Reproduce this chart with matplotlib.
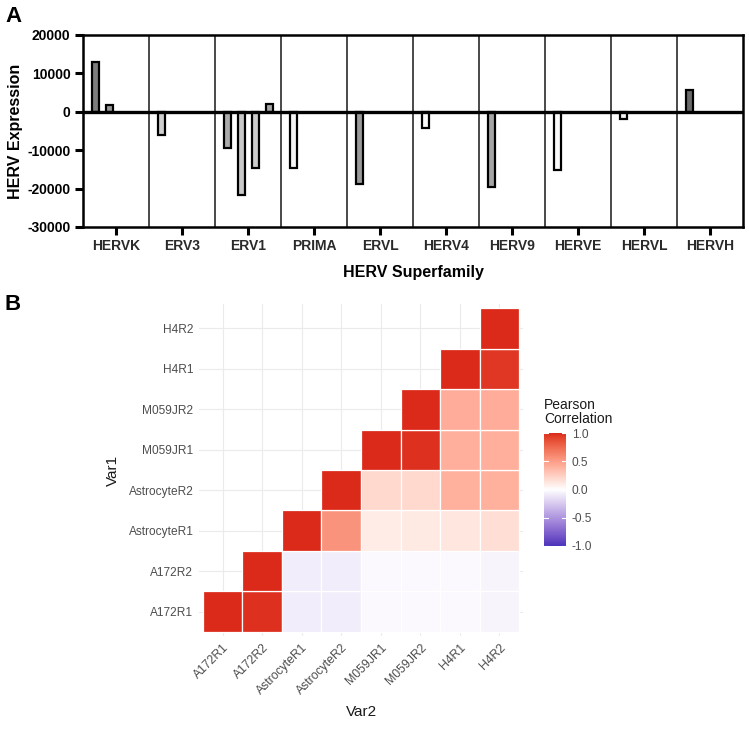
import numpy as np
import matplotlib
matplotlib.use("Agg")
import matplotlib.pyplot as plt
from matplotlib.colors import ListedColormap, Normalize
from matplotlib.patches import Rectangle

plt.rcParams['font.family'] = ['Liberation Sans', 'DejaVu Sans']

# ---------------- Panel A data ----------------
superfamilies = ["HERVK", "ERV3", "ERV1", "PRIMA", "ERVL", "HERV4", "HERV9", "HERVE", "HERVL", "HERVH"]
nan = np.nan
bar_slot1 = [13000, -6000, -9300, -14700, -18800, -4200, -19500, -15100, -2000, 5700]
bar_slot2 = [1800, nan, -21700, nan, nan, nan, nan, nan, nan, nan]
bar_slot3 = [nan, nan, -14600, nan, nan, nan, nan, nan, nan, nan]
bar_slot4 = [nan, nan, 2000, nan, nan, nan, nan, nan, nan, nan]
y_ticks = [-30000, -20000, -10000, 0, 10000, 20000]

# ---------------- Panel B data ----------------
samples = ["A172R1", "A172R2", "AstrocyteR1", "AstrocyteR2", "M059JR1", "M059JR2", "H4R1", "H4R2"]
# rows = Var1 (y), columns = Var2 (x); only upper triangle (x >= y) is drawn
pearson_r = [
    [1.00, 0.98, -0.08, -0.08, -0.03, -0.03, -0.03, -0.05],
    [0.98, 1.00, -0.08, -0.08, -0.03, -0.03, -0.03, -0.05],
    [-0.08, -0.08, 1.00, 0.55, 0.10, 0.11, 0.13, 0.17],
    [-0.08, -0.08, 0.55, 1.00, 0.20, 0.20, 0.40, 0.40],
    [-0.03, -0.03, 0.10, 0.20, 1.00, 0.98, 0.41, 0.41],
    [-0.03, -0.03, 0.11, 0.20, 0.98, 1.00, 0.42, 0.42],
    [-0.03, -0.03, 0.13, 0.40, 0.41, 0.42, 1.00, 0.96],
    [-0.05, -0.05, 0.17, 0.40, 0.41, 0.42, 0.96, 1.00],
]
legend_ticks = [-1.0, -0.5, 0.0, 0.5, 1.0]

# fill colours (style)
slot_colors = {
    0: ["#7d7d7d", "#cfcfcf", "#ababab", "#f4f4f4", "#9a9a9a", "#fafafa", "#a5a5a5", "#fafafa", "#f6f6f6", "#6a6a6a"],
    1: ["#999999", None, "#c8c8c8", None, None, None, None, None, None, None],
    2: [None, None, "#cbcbcb", None, None, None, None, None, None, None],
    3: [None, None, "#a8a8a8", None, None, None, None, None, None, None],
}
slot_offsets = [-0.31, -0.095, 0.11, 0.325]

fig = plt.figure(figsize=(7.49, 7.38), dpi=100)

# ================= Panel A =================
axA = fig.add_axes([83/749, 1-227/738, 660/749, 192/738])
x = np.arange(len(superfamilies))
for s, vals in enumerate([bar_slot1, bar_slot2, bar_slot3, bar_slot4]):
    vals = np.array(vals, dtype=float)
    for i, v in enumerate(vals):
        if np.isnan(v):
            continue
        axA.bar(x[i] + slot_offsets[s], v, width=0.11, color=slot_colors[s][i],
                edgecolor="black", linewidth=1.6, zorder=3)
for b in np.arange(0.5, len(superfamilies) - 0.5, 1.0):
    axA.axvline(b, color="#3a3a3a", lw=1.3, zorder=1)
axA.axhline(0, color="black", lw=2.4, zorder=4)
axA.set_xlim(-0.5, len(superfamilies) - 0.5)
axA.set_ylim(-30000, 20000)
axA.set_yticks(y_ticks)
axA.set_yticklabels([str(t) for t in y_ticks], fontsize=10, fontweight="bold")
axA.set_xticks(x)
axA.set_xticklabels(superfamilies, fontsize=10, fontweight="bold", color="#2a2a2a")
axA.tick_params(axis="both", direction="out", length=6, width=2.2, pad=3)
for sp in axA.spines.values():
    sp.set_linewidth(1.8)
axA.set_xlabel("HERV Superfamily", fontsize=11.5, fontweight="bold", labelpad=8)
fig.text(16/749, 1-131/738, "HERV Expression", fontsize=11.5, fontweight="bold",
         rotation=90, ha="center", va="center")
fig.text(5/749, 1-16/738, "A", fontsize=16, fontweight="bold", va="center", ha="left")
fig.text(5/749, 1-304/738, "B", fontsize=16, fontweight="bold", va="center", ha="left")

# ================= Panel B =================
# Lab interpolation colour scale (like ggplot gradient2)
def srgb_to_lab(rgb):
    rgb = np.asarray(rgb, dtype=float)
    lin = np.where(rgb <= 0.04045, rgb / 12.92, ((rgb + 0.055) / 1.055) ** 2.4)
    M = np.array([[0.4124, 0.3576, 0.1805], [0.2126, 0.7152, 0.0722], [0.0193, 0.1192, 0.9505]])
    xyz = lin @ M.T
    xyz = xyz / np.array([0.95047, 1.0, 1.08883])
    f = np.where(xyz > 0.008856, np.cbrt(xyz), 7.787 * xyz + 16/116)
    L = 116 * f[..., 1] - 16
    a = 500 * (f[..., 0] - f[..., 1])
    bb = 200 * (f[..., 1] - f[..., 2])
    return np.stack([L, a, bb], axis=-1)

def lab_to_srgb(lab):
    L, a, bb = lab[..., 0], lab[..., 1], lab[..., 2]
    fy = (L + 16) / 116
    fx = fy + a / 500
    fz = fy - bb / 200
    def finv(t):
        return np.where(t ** 3 > 0.008856, t ** 3, (t - 16/116) / 7.787)
    xyz = np.stack([finv(fx), finv(fy), finv(fz)], axis=-1) * np.array([0.95047, 1.0, 1.08883])
    Minv = np.array([[3.2406, -1.5372, -0.4986], [-0.9689, 1.8758, 0.0415], [0.0557, -0.2040, 1.0570]])
    lin = xyz @ Minv.T
    lin = np.clip(lin, 0, 1)
    rgb = np.where(lin <= 0.0031308, 12.92 * lin, 1.055 * lin ** (1/2.4) - 0.055)
    return np.clip(rgb, 0, 1)

def hex2rgb(h):
    h = h.lstrip("#")
    return [int(h[i:i+2], 16) / 255 for i in (0, 2, 4)]

low_lab = np.array([33.0, 48.0, -68.0])
mid_lab = srgb_to_lab(hex2rgb("#ffffff"))
high_lab = srgb_to_lab(hex2rgb("#dc2a1a"))
n = 256
t = np.linspace(-1, 1, n)
labs = np.empty((n, 3))
for k, tv in enumerate(t):
    if tv < 0:
        w = -tv
        labs[k] = mid_lab + (low_lab - mid_lab) * w
    else:
        labs[k] = mid_lab + (high_lab - mid_lab) * tv
cmap = ListedColormap(lab_to_srgb(labs))
norm = Normalize(-1, 1)

axB = fig.add_axes([199/749, 1-636/738, 324/749, 332/738])
nS = len(samples)
R = np.array(pearson_r)
for yi in range(nS):
    for xi in range(nS):
        if xi >= yi:
            axB.add_patch(Rectangle((xi - 0.5, yi - 0.5), 1, 1, facecolor=cmap(norm(R[yi, xi])),
                                    edgecolor="white", linewidth=0.9, zorder=3))
axB.set_xlim(-0.6, nS - 0.4)
axB.set_ylim(-0.6, nS - 0.4)
axB.set_xticks(range(nS))
axB.set_yticks(range(nS))
axB.set_xticklabels(samples, rotation=45, ha="right", va="top", rotation_mode="anchor",
                    fontsize=8.8, color="#4d4d4d")
axB.set_yticklabels(samples, fontsize=8.6, color="#4d4d4d")
axB.tick_params(axis="both", length=0, pad=4)
axB.grid(True, color="#ebebeb", lw=0.8, zorder=0)
axB.set_axisbelow(True)
for sp in axB.spines.values():
    sp.set_visible(False)
axB.set_xlabel("Var2", fontsize=11, color="#1a1a1a", labelpad=6)
axB.set_ylabel("Var1", fontsize=11, color="#1a1a1a", labelpad=6)

# Legend colourbar
caxB = fig.add_axes([544/749, 1-546/738, 22/749, 113/738])
grad = np.linspace(-1, 1, 256).reshape(-1, 1)
caxB.imshow(grad, cmap=cmap, norm=norm, aspect="auto", origin="lower", extent=[0, 1, -1, 1])
caxB.set_xlim(0, 1)
caxB.set_ylim(-1, 1)
caxB.set_xticks([])
caxB.yaxis.tick_right()
caxB.set_yticks(legend_ticks)
caxB.set_yticklabels([f"{v:.1f}" for v in legend_ticks], fontsize=8.6, color="#4d4d4d")
caxB.tick_params(axis="y", length=0, pad=4)
for v in legend_ticks:
    caxB.plot([0, 0.2], [v, v], color="white", lw=0.8)
    caxB.plot([0.8, 1], [v, v], color="white", lw=0.8)
for sp in caxB.spines.values():
    sp.set_visible(False)
fig.text(544/749, 1-398/738, "Pearson\nCorrelation", fontsize=10, color="#1a1a1a",
         ha="left", va="top", linespacing=1.0)

fig.savefig("out.png", dpi=100)
